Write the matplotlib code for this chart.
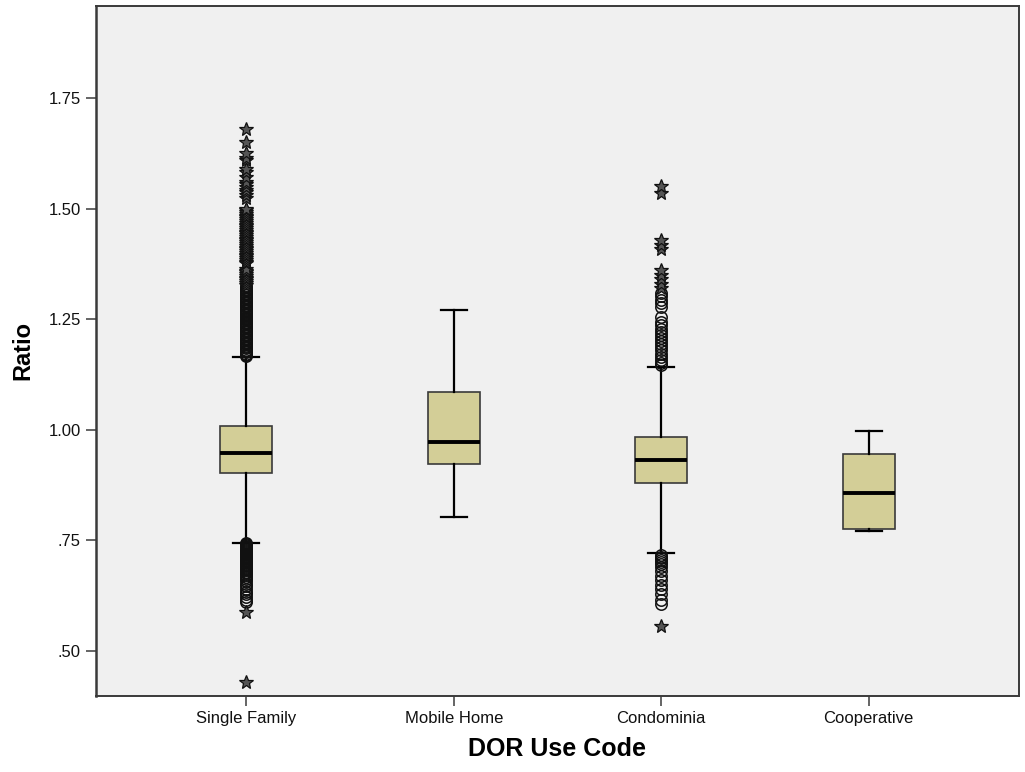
import matplotlib
matplotlib.use("Agg")
import matplotlib.pyplot as plt
import numpy as np

# -----------------------------------------------------------------------------
# Data
# -----------------------------------------------------------------------------
CATEGORIES = ["Single Family", "Mobile Home", "Condominia", "Cooperative"]

WHISKER_LOW = [0.745, 0.803, 0.722, 0.772]
Q1 = [0.903, 0.923, 0.880, 0.776]
MEDIAN = [0.948, 0.973, 0.932, 0.858]
Q3 = [1.009, 1.086, 0.984, 0.946]
WHISKER_HIGH = [1.165, 1.271, 1.142, 0.998]

# mild outliers (circles) and extreme outliers (stars), per category
SF_CIRCLES = [
    0.744, 0.742, 0.740, 0.738, 0.736, 0.734, 0.732, 0.730, 0.728, 0.726,
    0.724, 0.722, 0.720, 0.718, 0.716, 0.714, 0.712, 0.710, 0.708, 0.706,
    0.704, 0.702, 0.700, 0.697, 0.694, 0.691, 0.688, 0.685, 0.682, 0.679,
    0.676, 0.672, 0.668, 0.663, 0.658, 0.652, 0.646, 0.640, 0.634, 0.628,
    0.621, 0.615, 0.610,
    1.166, 1.169, 1.172, 1.175, 1.178, 1.181, 1.184, 1.187, 1.190, 1.193,
    1.196, 1.199, 1.202, 1.205, 1.208, 1.211, 1.214, 1.217, 1.220, 1.223,
    1.226, 1.229, 1.232, 1.235, 1.238, 1.241, 1.244, 1.247, 1.250, 1.253,
    1.256, 1.259, 1.262, 1.265, 1.268, 1.271, 1.274, 1.277, 1.280, 1.283,
    1.286, 1.289, 1.292, 1.295, 1.298, 1.301, 1.304, 1.307, 1.310, 1.313,
    1.316, 1.319, 1.322, 1.325,
]
SF_STARS = [
    0.588, 0.430,
    1.328, 1.332, 1.336, 1.340, 1.344, 1.348, 1.352, 1.356, 1.360, 1.364,
    1.376, 1.380, 1.384, 1.388, 1.392, 1.396, 1.400, 1.404, 1.408, 1.412,
    1.416, 1.420, 1.424, 1.428, 1.432, 1.436, 1.440, 1.444, 1.448, 1.452,
    1.456, 1.460, 1.464, 1.468, 1.472, 1.476, 1.480, 1.484, 1.488, 1.492,
    1.496, 1.500, 1.523, 1.530, 1.537, 1.541, 1.548, 1.555, 1.560, 1.571,
    1.582, 1.590, 1.609, 1.615, 1.625, 1.651, 1.681,
]
MH_CIRCLES = []
MH_STARS = []
CO_CIRCLES = [
    0.717, 0.713, 0.709, 0.705, 0.701, 0.697, 0.690, 0.680, 0.670, 0.660,
    0.650, 0.640, 0.628, 0.615, 0.607,
    1.147, 1.152, 1.158, 1.165, 1.172, 1.180, 1.186, 1.193, 1.200, 1.207,
    1.214, 1.221, 1.228, 1.236, 1.244, 1.256, 1.278, 1.286, 1.294, 1.302,
    1.310,
]
CO_STARS = [0.557, 1.320, 1.330, 1.340, 1.350, 1.362, 1.408, 1.418, 1.430,
            1.535, 1.552]
CP_CIRCLES = []
CP_STARS = []

CIRCLES = [SF_CIRCLES, MH_CIRCLES, CO_CIRCLES, CP_CIRCLES]
STARS = [SF_STARS, MH_STARS, CO_STARS, CP_STARS]

Y_TICKS = [0.50, 0.75, 1.00, 1.25, 1.50, 1.75]
Y_TICK_LABELS = [".50", ".75", "1.00", "1.25", "1.50", "1.75"]

# -----------------------------------------------------------------------------
# Style
# -----------------------------------------------------------------------------
BOX_FILL = "#d3ce97"
PLOT_BG = "#f0f0f0"
FRAME = "#3a3a3a"

plt.rcParams["font.family"] = ["Liberation Sans", "DejaVu Sans"]

fig = plt.figure(figsize=(10.25, 7.72), dpi=100)
ax = fig.add_axes([96 / 1025, 76 / 772, 923 / 1025, 690 / 772])
ax.set_facecolor(PLOT_BG)

stats = []
for i, name in enumerate(CATEGORIES):
    stats.append(dict(label=name, whislo=WHISKER_LOW[i], q1=Q1[i], med=MEDIAN[i],
                      q3=Q3[i], whishi=WHISKER_HIGH[i], fliers=[]))

pos = np.arange(len(CATEGORIES))
ax.bxp(stats, positions=pos, widths=0.25, showfliers=False, patch_artist=True,
       boxprops=dict(facecolor=BOX_FILL, edgecolor=FRAME, linewidth=1.2),
       medianprops=dict(color="black", linewidth=2.8, solid_capstyle="butt"),
       whiskerprops=dict(color="black", linewidth=1.6),
       capprops=dict(color="black", linewidth=1.6))

for i in range(len(CATEGORIES)):
    if CIRCLES[i]:
        ax.plot(np.full(len(CIRCLES[i]), pos[i]), CIRCLES[i], linestyle="none",
                marker="o", markersize=8.2, markerfacecolor="none",
                markeredgecolor="#111111", markeredgewidth=1.1, zorder=4)
    if STARS[i]:
        ax.plot(np.full(len(STARS[i]), pos[i]), STARS[i], linestyle="none",
                marker="*", markersize=10.5, markerfacecolor="#555555",
                markeredgecolor="#111111", markeredgewidth=0.9, zorder=4)

ax.set_xlim(-0.725, 3.725)
ax.set_ylim(0.398, 1.958)
ax.set_xticks(pos)
ax.set_xticklabels(CATEGORIES, fontsize=12, color="#111111")
ax.set_yticks(Y_TICKS)
ax.set_yticklabels(Y_TICK_LABELS, fontsize=12, color="#111111")
ax.tick_params(axis="both", length=7, width=1.1, color=FRAME, pad=4)

for side in ["left", "right", "top", "bottom"]:
    ax.spines[side].set_color(FRAME)
    ax.spines[side].set_linewidth(1.4)
ax.spines["left"].set_linewidth(1.8)

ax.set_xlabel("DOR Use Code", fontsize=18, fontweight="bold", labelpad=8)
ax.set_ylabel("Ratio", fontsize=17, fontweight="bold", labelpad=10)

fig.savefig("out.png", dpi=100)
